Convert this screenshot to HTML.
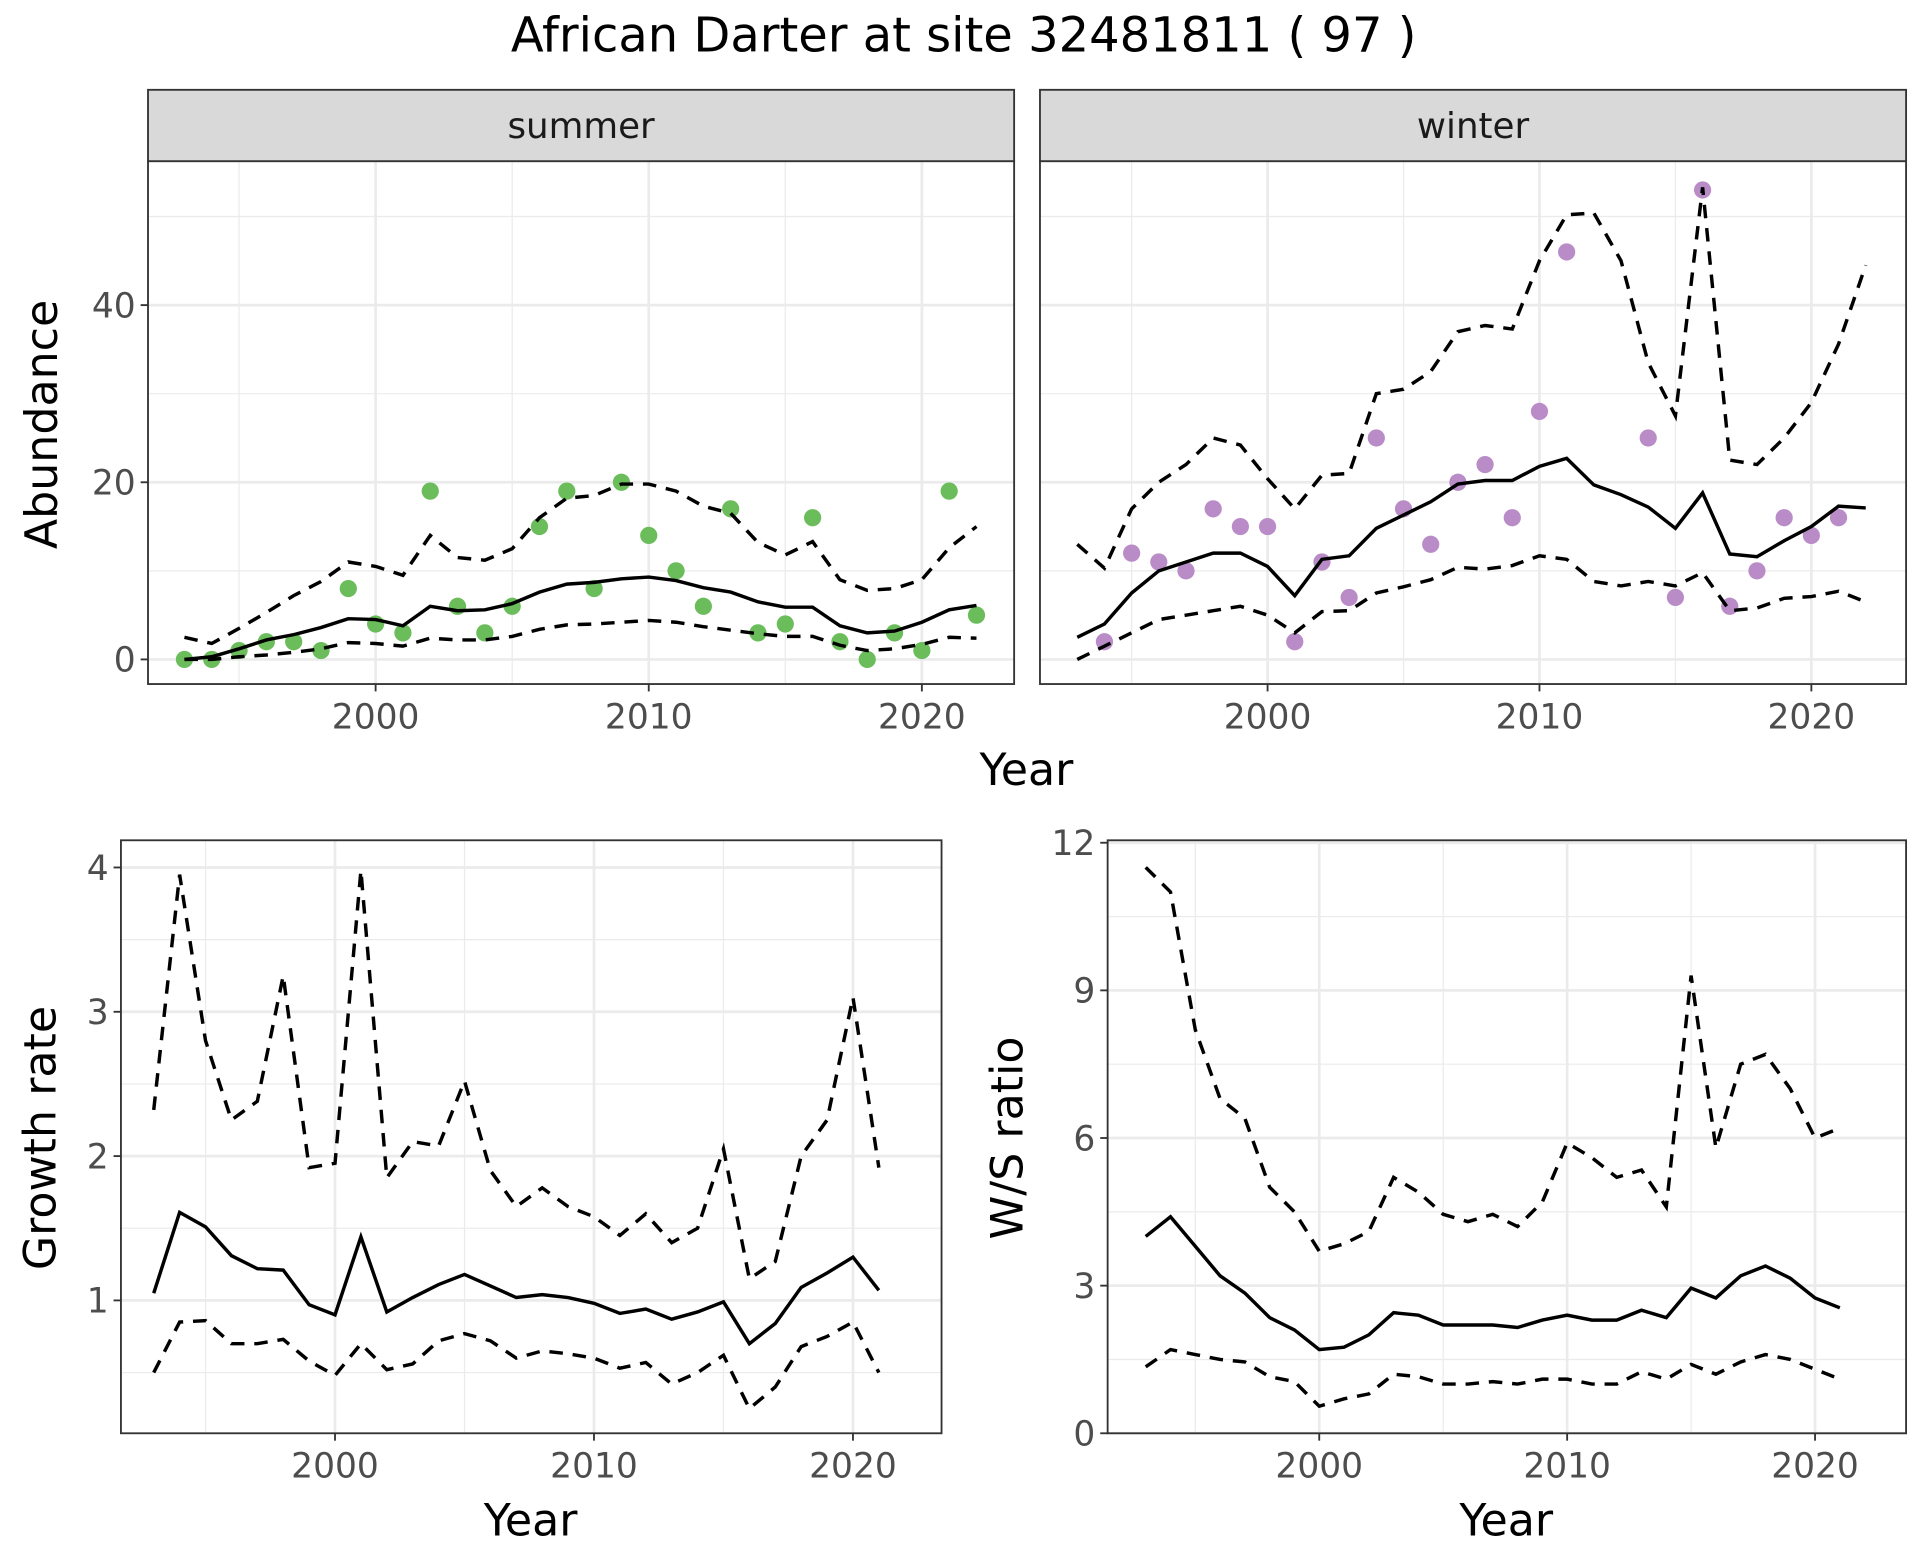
<!DOCTYPE html>
<html><head><meta charset="utf-8"><style>html,body{margin:0;padding:0;background:#fff}svg{display:block}</style></head>
<body>
<svg id="s" width="1920" height="1560" viewBox="0 0 1560 1268" xmlns="http://www.w3.org/2000/svg" font-family="'DejaVu Sans','Liberation Sans',sans-serif"></svg>
<script>
const S=document.getElementById('s');let h='';
h+='<rect width="1560" height="1268" fill="#fff"/>';
h+='<text x="783" y="42" font-size="39" text-anchor="middle" fill="#000">African Darter at site 32481811 ( 97 )</text>';
function panel(o){
  const {x0,x1,y0,y1,fx,fy,xmaj,xmin,ymaj,ymin,ylab,xlabs}=o;
  let g='<rect x="'+x0+'" y="'+y0+'" width="'+(x1-x0)+'" height="'+(y1-y0)+'" fill="#fff"/>';
  ymin.forEach(v=>{const y=fy(v);if(y>y0&&y<y1)g+='<line x1="'+x0+'" x2="'+x1+'" y1="'+y+'" y2="'+y+'" stroke="#ebebeb" stroke-width="1"/>';});
  xmin.forEach(v=>{const x=fx(v);g+='<line y1="'+y0+'" y2="'+y1+'" x1="'+x+'" x2="'+x+'" stroke="#ebebeb" stroke-width="1"/>';});
  ymaj.forEach(v=>{const y=fy(v);g+='<line x1="'+x0+'" x2="'+x1+'" y1="'+y+'" y2="'+y+'" stroke="#ebebeb" stroke-width="2.2"/>';});
  xmaj.forEach(v=>{const x=fx(v);g+='<line y1="'+y0+'" y2="'+y1+'" x1="'+x+'" x2="'+x+'" stroke="#ebebeb" stroke-width="2.2"/>';});
  if(ylab){ymaj.forEach(v=>{const y=fy(v);g+='<line x1="'+(x0-6)+'" x2="'+x0+'" y1="'+y+'" y2="'+y+'" stroke="#333" stroke-width="1.5"/><text x="'+(x0-10)+'" y="'+(y+10)+'" font-size="28" fill="#4d4d4d" text-anchor="end">'+v+'</text>';});}
  xmaj.forEach(v=>{const x=fx(v);g+='<line y1="'+y1+'" y2="'+(y1+6)+'" x1="'+x+'" x2="'+x+'" stroke="#333" stroke-width="1.5"/>';if(xlabs)g+='<text x="'+x+'" y="'+(y1+36)+'" font-size="28" fill="#4d4d4d" text-anchor="middle">'+v+'</text>';});
  return g;
}
function line(xs,ys,fx,fy,dash){return '<polyline fill="none" stroke="#000" stroke-width="2.8" '+(dash?'stroke-dasharray="11,8"':'')+' points="'+xs.map((x,i)=>fx(x)+','+fy(ys[i])).join(' ')+'"/>';}
const yrs=(a,b)=>{let r=[];for(let i=a;i<=b;i++)r.push(i);return r};
const Y30=yrs(1993,2022);
const tfy=v=>536-7.2*v;
const sfx=v=>305+22.2*(v-2000), wfx=v=>1030+22.1*(v-2000);
const tcommon={y0:131,y1:556,fy:tfy,xmaj:[2000,2010,2020],xmin:[1995,2005,2015],ymaj:[0,20,40],ymin:[10,30,50],xlabs:true};
h+=panel(Object.assign({x0:120,x1:824,fx:sfx,ylab:true},tcommon));
h+=panel(Object.assign({x0:845,x1:1549,fx:wfx,ylab:false},tcommon));
const sm=[0,0.3,1.2,2.2,2.8,3.6,4.6,4.5,3.8,6,5.5,5.6,6.3,7.6,8.5,8.7,9.1,9.3,8.9,8.1,7.6,6.5,5.9,5.9,3.8,3,3.2,4.2,5.6,6.1];
const su=[2.5,1.8,3.5,5.3,7.2,8.8,11,10.5,9.5,14,11.5,11.2,12.5,16,18.2,18.5,19.8,19.8,19,17.3,16.5,13.2,11.8,13.3,9,7.8,8,9,12.6,15];
const sl=[0,0,0.3,0.5,0.8,1.2,1.9,1.8,1.5,2.4,2.2,2.2,2.6,3.4,3.9,4,4.2,4.4,4.2,3.7,3.3,2.9,2.6,2.6,1.6,1,1.2,1.7,2.5,2.4];
const sp=[0,0,1,2,2,1,8,4,3,19,6,3,6,15,19,8,20,14,10,6,17,3,4,16,2,0,3,1,19,5];
sp.forEach((v,i)=>h+='<circle cx="'+sfx(Y30[i])+'" cy="'+tfy(v)+'" r="7" fill="#6abd5a"/>');
h+=line(Y30,sm,sfx,tfy)+line(Y30,su,sfx,tfy,1)+line(Y30,sl,sfx,tfy,1);
const wm=[2.5,4,7.5,10,11,12,12,10.5,7.2,11.3,11.7,14.8,16.3,17.8,19.8,20.2,20.2,21.8,22.7,19.7,18.6,17.2,14.8,18.8,11.9,11.6,13.4,15,17.3,17.1];
const wu=[13,10.3,17,20,22,25,24.2,20.4,17,20.8,21,30,30.5,32.5,37,37.7,37.3,45,50.2,50.4,45,33.5,27.5,53.3,22.5,22,25,29,35.6,44.5];
const wl=[0,1.5,3,4.5,5,5.5,6,5,3,5.4,5.5,7.5,8.2,9,10.4,10.2,10.6,11.7,11.3,8.8,8.3,8.8,8.3,9.8,5.5,5.8,6.9,7.1,7.7,6.5];
const wp=[[1994,2],[1995,12],[1996,11],[1997,10],[1998,17],[1999,15],[2000,15],[2001,2],[2002,11],[2003,7],[2004,25],[2005,17],[2006,13],[2007,20],[2008,22],[2009,16],[2010,28],[2011,46],[2014,25],[2015,7],[2016,53],[2017,6],[2018,10],[2019,16],[2020,14],[2021,16]];
wp.forEach(p=>h+='<circle cx="'+wfx(p[0])+'" cy="'+tfy(p[1])+'" r="7" fill="#b98cc8"/>');
h+=line(Y30,wm,wfx,tfy)+line(Y30,wu,wfx,tfy,1)+line(Y30,wl,wfx,tfy,1);
[[120,824],[845,1549]].forEach((p,i)=>{
 h+='<rect x="'+p[0]+'" y="131" width="'+(p[1]-p[0])+'" height="425" fill="none" stroke="#333" stroke-width="1.5"/>';
 h+='<rect x="'+p[0]+'" y="73" width="'+(p[1]-p[0])+'" height="58" fill="#d9d9d9" stroke="#333" stroke-width="1.5"/>';
 h+='<text x="'+((p[0]+p[1])/2)+'" y="112" font-size="29" fill="#1a1a1a" text-anchor="middle">'+(i?'winter':'summer')+'</text>';
});
h+='<text x="834" y="638" font-size="36" text-anchor="middle">Year</text>';
h+='<text transform="translate(46,345) rotate(-90)" font-size="36" text-anchor="middle">Abundance</text>';
const Y29=yrs(1993,2021);
const gfx=v=>272+21.05*(v-2000), gfy=v=>1174.3-117.3*v;
h+=panel({x0:98,x1:765,y0:683,y1:1165,fx:gfx,fy:gfy,xmaj:[2000,2010,2020],xmin:[1995,2005,2015],ymaj:[1,2,3,4],ymin:[0.5,1.5,2.5,3.5],ylab:true,xlabs:true});
const gm=[1.05,1.61,1.51,1.31,1.22,1.21,0.97,0.9,1.44,0.92,1.02,1.11,1.18,1.1,1.02,1.04,1.02,0.98,0.91,0.94,0.87,0.92,0.99,0.7,0.84,1.09,1.19,1.3,1.07];
const gu=[2.32,3.95,2.8,2.25,2.38,3.25,1.92,1.95,3.98,1.85,2.1,2.07,2.52,1.9,1.65,1.78,1.65,1.58,1.45,1.6,1.4,1.5,2.05,1.15,1.27,2,2.25,3.1,1.92];
const gl=[0.5,0.85,0.86,0.7,0.7,0.73,0.58,0.48,0.7,0.52,0.56,0.72,0.77,0.72,0.6,0.65,0.63,0.6,0.53,0.57,0.42,0.5,0.62,0.25,0.4,0.68,0.75,0.85,0.5];
h+=line(Y29,gm,gfx,gfy)+line(Y29,gu,gfx,gfy,1)+line(Y29,gl,gfx,gfy,1);
h+='<rect x="98" y="683" width="667" height="482" fill="none" stroke="#333" stroke-width="1.5"/>';
h+='<text x="431" y="1248" font-size="36" text-anchor="middle">Year</text>';
h+='<text transform="translate(45,925) rotate(-90)" font-size="36" text-anchor="middle">Growth rate</text>';
const rfx=v=>1072+20.15*(v-2000), rfy=v=>1165-40*v;
h+=panel({x0:900,x1:1549,y0:683,y1:1165,fx:rfx,fy:rfy,xmaj:[2000,2010,2020],xmin:[1995,2005,2015],ymaj:[0,3,6,9,12],ymin:[1.5,4.5,7.5,10.5],ylab:true,xlabs:true});
const rm=[4,4.4,3.8,3.2,2.85,2.35,2.1,1.7,1.75,2,2.45,2.4,2.2,2.2,2.2,2.15,2.3,2.4,2.3,2.3,2.5,2.35,2.95,2.75,3.2,3.4,3.15,2.75,2.55];
const ru=[11.5,11,8.2,6.8,6.4,5,4.5,3.7,3.85,4.1,5.2,4.9,4.45,4.3,4.45,4.2,4.7,5.9,5.6,5.2,5.35,4.6,9.3,5.8,7.5,7.7,7,6,6.2];
const rl=[1.35,1.7,1.6,1.5,1.45,1.15,1.05,0.55,0.7,0.8,1.2,1.15,1,1,1.05,1,1.1,1.1,1,1,1.25,1.1,1.4,1.2,1.45,1.6,1.5,1.3,1.1];
h+=line(Y29,rm,rfx,rfy)+line(Y29,ru,rfx,rfy,1)+line(Y29,rl,rfx,rfy,1);
h+='<rect x="900" y="683" width="649" height="482" fill="none" stroke="#333" stroke-width="1.5"/>';
h+='<text x="1224" y="1248" font-size="36" text-anchor="middle">Year</text>';
h+='<text transform="translate(831,925) rotate(-90)" font-size="36" text-anchor="middle">W/S ratio</text>';
S.innerHTML=h;
</script>
</body></html>
